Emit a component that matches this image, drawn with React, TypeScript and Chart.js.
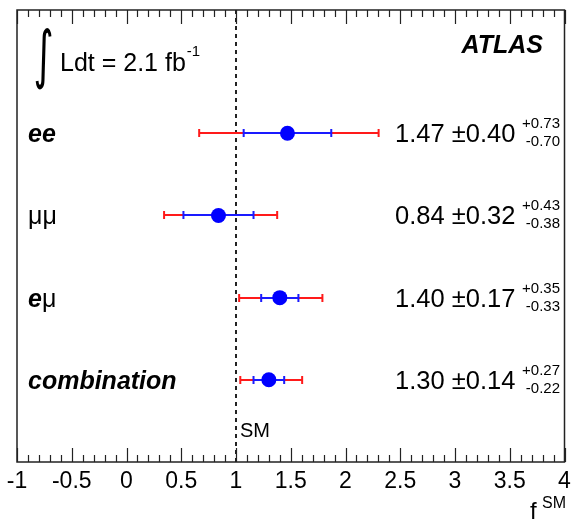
import React, { useEffect, useRef } from "react";
import { Chart, registerables } from "chart.js";
Chart.register(...registerables);

const channels = ["ee", "μμ", "eμ", "combination"];
const centralValues = [1.47, 0.84, 1.4, 1.3];
const statErrors = [0.4, 0.32, 0.17, 0.14];
const systUp = [0.73, 0.43, 0.35, 0.27];
const systDown = [0.7, 0.38, 0.33, 0.22];
const xMin = -1;
const xMax = 4;
const xStep = 0.5;
const smValue = 1;

const FONT = "'Liberation Sans', Arial, Helvetica, sans-serif";

const overlayPlugin = {
  id: "overlay",
  beforeDatasetsDraw(chart: any) {
    const ctx = chart.ctx;
    const xs = chart.scales.x;
    const ys = chart.scales.y;
    const area = chart.chartArea;
    ctx.save();
    // SM dashed line
    const xsm = xs.getPixelForValue(smValue);
    ctx.strokeStyle = "#222";
    ctx.lineWidth = 2;
    ctx.setLineDash([4, 4]);
    ctx.beginPath();
    ctx.moveTo(xsm, area.top);
    ctx.lineTo(xsm, area.bottom);
    ctx.stroke();
    ctx.setLineDash([]);
    // error bars
    const bar = (a: number, b: number, y: number, color: string, cap: number) => {
      ctx.strokeStyle = color;
      ctx.lineWidth = 2;
      ctx.beginPath();
      ctx.moveTo(a, y);
      ctx.lineTo(b, y);
      ctx.moveTo(a, y - cap / 2);
      ctx.lineTo(a, y + cap / 2);
      ctx.moveTo(b, y - cap / 2);
      ctx.lineTo(b, y + cap / 2);
      ctx.stroke();
    };
    centralValues.forEach((c, i) => {
      const y = Math.round(ys.getPixelForValue(i));
      const totUp = Math.sqrt(statErrors[i] ** 2 + systUp[i] ** 2);
      const totDn = Math.sqrt(statErrors[i] ** 2 + systDown[i] ** 2);
      bar(xs.getPixelForValue(c - totDn), xs.getPixelForValue(c + totUp), y, "#ff1a1a", 8);
      bar(xs.getPixelForValue(c - statErrors[i]), xs.getPixelForValue(c + statErrors[i]), y, "#1a1aff", 8);
    });
    ctx.restore();
  },
  afterDraw(chart: any) {
    const ctx = chart.ctx;
    const xs = chart.scales.x;
    const ys = chart.scales.y;
    const area = chart.chartArea;
    ctx.save();
    // frame
    ctx.strokeStyle = "#222";
    ctx.lineWidth = 1.5;
    ctx.strokeRect(area.left, area.top, area.right - area.left, area.bottom - area.top);
    // ticks
    ctx.lineWidth = 1.2;
    const n = Math.round((xMax - xMin) / 0.1);
    for (let i = 0; i <= n; i++) {
      const v = xMin + i * 0.1;
      const px = Math.round(xs.getPixelForValue(v)) + 0.5;
      const len = i % 5 === 0 ? 14 : 7;
      ctx.beginPath();
      ctx.moveTo(px, area.bottom);
      ctx.lineTo(px, area.bottom - len);
      ctx.moveTo(px, area.top);
      ctx.lineTo(px, area.top + len);
      ctx.stroke();
    }
    ctx.fillStyle = "#000";
    ctx.textBaseline = "alphabetic";
    // integral
    ctx.font = `50px 'DejaVu Sans', ${FONT}`;
    const m = ctx.measureText("∫");
    const h = m.actualBoundingBoxAscent + m.actualBoundingBoxDescent;
    const w = m.actualBoundingBoxLeft + m.actualBoundingBoxRight;
    ctx.save();
    ctx.translate(35, 28);
    ctx.scale(17 / w, 62 / h);
    ctx.fillText("∫", m.actualBoundingBoxLeft, m.actualBoundingBoxAscent);
    ctx.restore();
    ctx.font = `25px ${FONT}`;
    ctx.textAlign = "left";
    ctx.fillText("Ldt = 2.1 fb", 60, 71);
    const lw = ctx.measureText("Ldt = 2.1 fb").width;
    ctx.font = `15px ${FONT}`;
    ctx.fillText("-1", 60 + lw + 1, 56);
    // ATLAS
    ctx.font = `italic bold 25px ${FONT}`;
    ctx.textAlign = "right";
    ctx.fillText("ATLAS", 543, 53);
    // channel labels and results
    channels.forEach((name, i) => {
      const y = ys.getPixelForValue(i);
      let x = 28;
      ctx.textAlign = "left";
      for (const ch of name) {
        ctx.font = ch === "μ" ? `25px ${FONT}` : `italic bold 25px ${FONT}`;
        ctx.fillText(ch, x, y + 9);
        x += ctx.measureText(ch).width;
      }
      ctx.font = `25.5px ${FONT}`;
      ctx.fillText(`${centralValues[i].toFixed(2)} ±${statErrors[i].toFixed(2)}`, 395, y + 9);
      ctx.font = `15px ${FONT}`;
      ctx.textAlign = "right";
      ctx.fillText(`+${systUp[i].toFixed(2)}`, 560, y - 5);
      ctx.fillText(`-${systDown[i].toFixed(2)}`, 560, y + 13);
    });
    // SM label
    ctx.textAlign = "left";
    ctx.font = `20px ${FONT}`;
    ctx.fillText("SM", xs.getPixelForValue(smValue) + 4, 437);
    // axis title f^SM
    ctx.font = `24px ${FONT}`;
    ctx.fillText("f", 530, 519);
    ctx.font = `16px ${FONT}`;
    ctx.textAlign = "right";
    ctx.fillText("SM", 566, 508);
    ctx.restore();
  },
};

export default function App() {
  const ref = useRef<HTMLCanvasElement | null>(null);
  useEffect(() => {
    if (!ref.current) return;
    const chart = new Chart(ref.current, {
      type: "scatter",
      data: {
        datasets: [
          {
            data: centralValues.map((v, i) => ({ x: v, y: i })),
            backgroundColor: "#0000ff",
            borderColor: "#0000ff",
            pointRadius: 7.5,
            pointHoverRadius: 7.5,
            borderWidth: 0,
          },
        ],
      },
      options: {
        responsive: false,
        animation: false,
        events: [],
        layout: { padding: { left: 17, top: 10, right: 6, bottom: 0 } },
        plugins: { legend: { display: false }, tooltip: { enabled: false } },
        scales: {
          x: {
            type: "linear",
            min: xMin,
            max: xMax,
            grid: { display: false, drawTicks: false },
            border: { display: false },
            ticks: {
              stepSize: xStep,
              padding: 6,
              color: "#000",
              font: { family: FONT, size: 23 },
              maxRotation: 0,
              autoSkip: false,
              callback: (v: any) => String(Math.round(Number(v) * 10) / 10),
            },
            afterFit: (s: any) => {
              s.height = 59;
              s.paddingLeft = 0;
              s.paddingRight = 0;
            },
          },
          y: {
            type: "linear",
            display: false,
            min: -1.5,
            max: 4,
            reverse: true,
          },
        },
      },
      plugins: [overlayPlugin],
    });
    return () => chart.destroy();
  }, []);
  return (
    <div style={{ position: "fixed", left: 0, top: 0, width: 572, height: 521, background: "#fff" }}>
      <canvas ref={ref} width={572} height={521} style={{ display: "block" }} />
    </div>
  );
}
